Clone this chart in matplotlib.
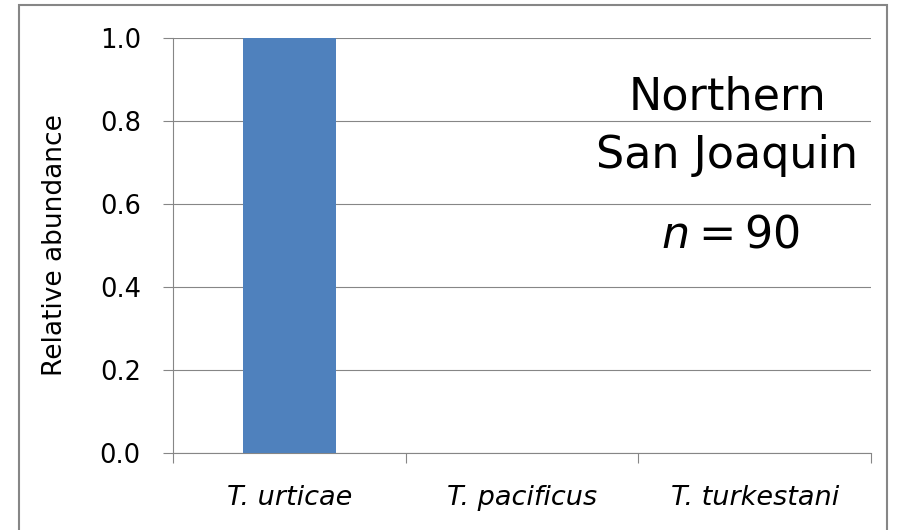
import matplotlib.pyplot as plt
from matplotlib.patches import Rectangle

species = ["T. urticae", "T. pacificus", "T. turkestani"]
abundance = [1.0, 0.0, 0.0]
region = ["Northern", "San Joaquin"]
n_samples = 90
y_ticks = [0.0, 0.2, 0.4, 0.6, 0.8, 1.0]

grey = '#868686'

fig = plt.figure(figsize=(8.97, 5.30), dpi=100)
ax = fig.add_axes([173/897, 77/530, 698/897, 415/530])

x = list(range(len(species)))
ax.bar(x, abundance, width=0.4, color='#4F81BD', zorder=3)

ax.set_xlim(-0.5, len(species) - 0.5)
ax.set_ylim(0, 1.0)

# y axis, Excel style
ax.set_yticks(y_ticks)
ax.set_yticklabels([f"{v:.1f}" for v in y_ticks])
ax.tick_params(axis='y', direction='out', length=7.2, width=0.8, color=grey,
               pad=16, labelsize=18.5)
ax.grid(axis='y', color=grey, linewidth=0.8, zorder=0)
ax.set_axisbelow(True)

# x ticks at the category boundaries, labels at the centers
ax.set_xticks([i - 0.5 for i in range(len(species) + 1)])
ax.set_xticklabels([])
ax.tick_params(axis='x', which='major', direction='out', length=7.2, width=0.8, color=grey)
ax.set_xticks(x, minor=True)
ax.set_xticklabels(species, minor=True, fontstyle='italic', fontsize=19.5)
ax.tick_params(axis='x', which='minor', length=0, pad=23)

for s in ['top', 'right']:
    ax.spines[s].set_visible(False)
for s in ['left', 'bottom']:
    ax.spines[s].set_color(grey)
    ax.spines[s].set_linewidth(0.8)

ax.set_ylabel("Relative abundance", fontsize=19)
ax.yaxis.set_label_coords(-0.15, 0.5)

# annotation
fig.text(727/897, (530-110)/530, region[0], ha='center', va='baseline', fontsize=32)
fig.text(727/897, (530-168)/530, region[1], ha='center', va='baseline', fontsize=32)
fig.text(730/897, (530-248)/530, f"$n$\u2009=\u2009{n_samples}", ha='center', va='baseline', fontsize=32)

# chart border
fig.add_artist(Rectangle((19/897, -0.05), 868/897, 1.05 - 4.5/530, transform=fig.transFigure,
                         fill=False, edgecolor=grey, linewidth=1.5))

fig.savefig('out.png', dpi=100)
